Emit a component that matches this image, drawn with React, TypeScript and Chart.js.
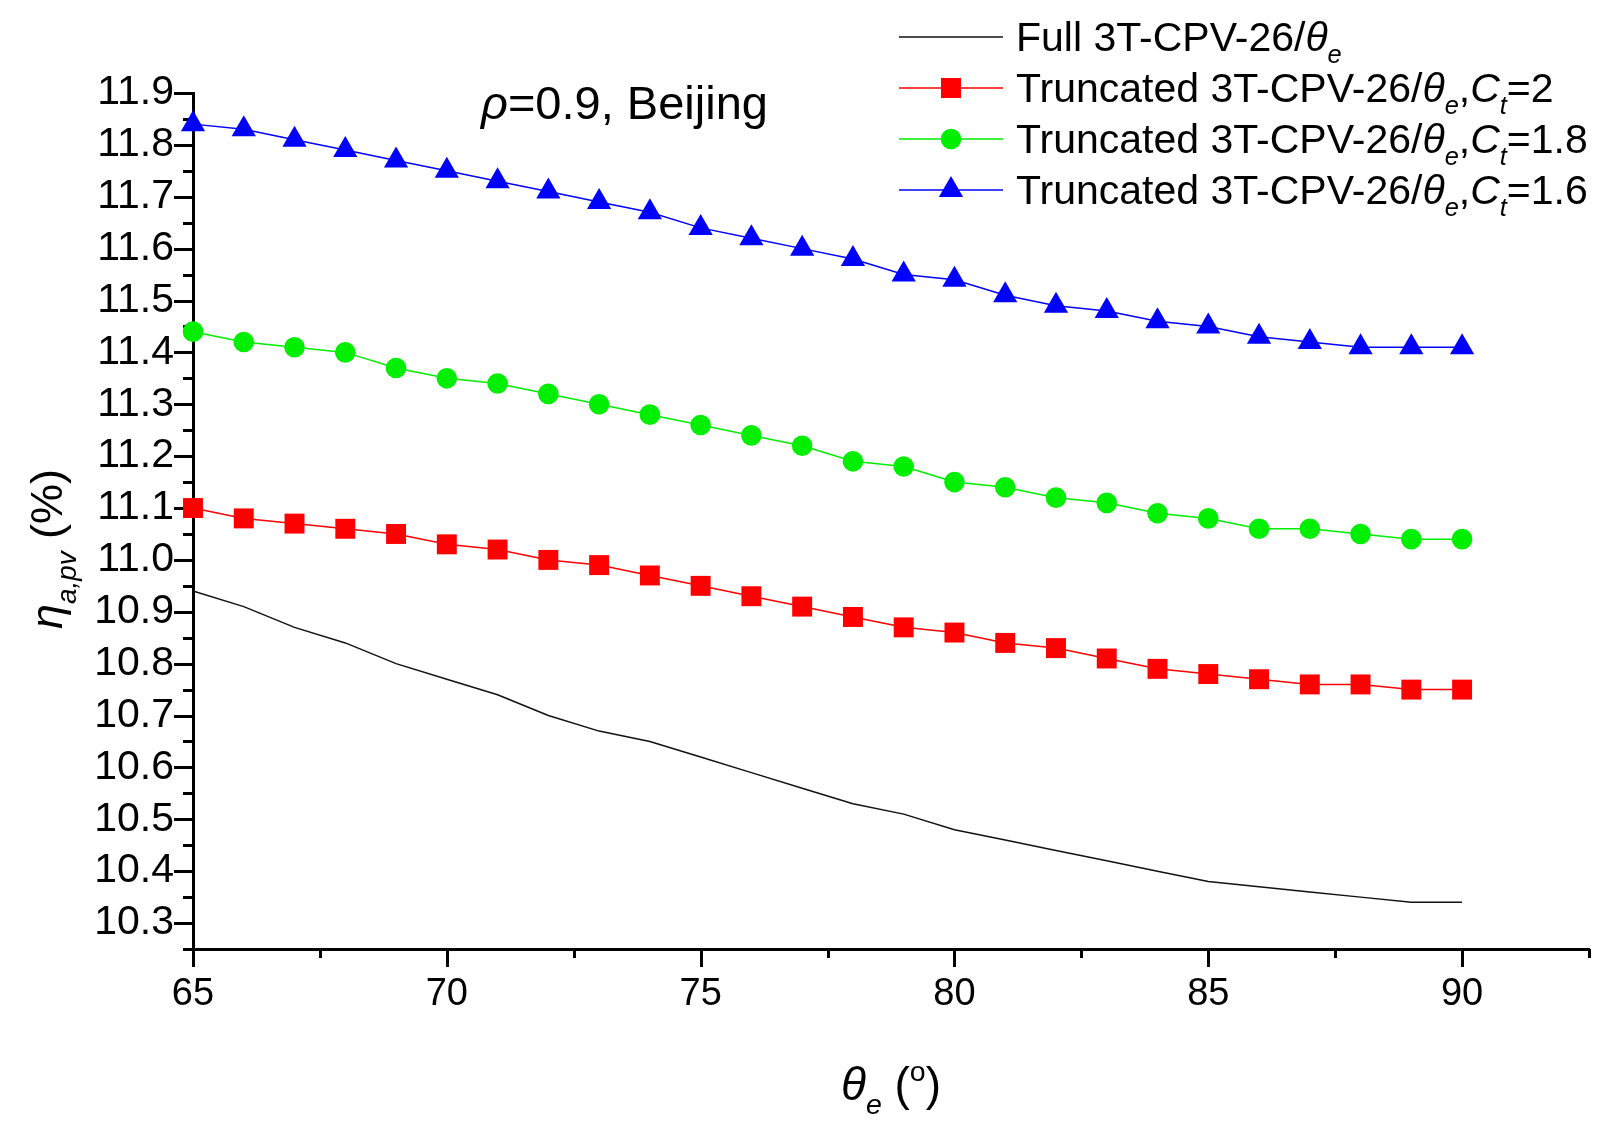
import { useEffect, useRef } from "react";
import { Chart, registerables, type ChartConfiguration, type Plugin } from "chart.js";

Chart.register(...registerables);

// theta_e in degrees
const angles = [65, 66, 67, 68, 69, 70, 71, 72, 73, 74, 75, 76, 77, 78, 79, 80, 81, 82, 83, 84, 85, 86, 87, 88, 89, 90];

const fullValues = [
  10.94, 10.91, 10.87, 10.84, 10.8, 10.77, 10.74, 10.7, 10.67, 10.65, 10.62, 10.59, 10.56,
  10.53, 10.51, 10.48, 10.46, 10.44, 10.42, 10.4, 10.38, 10.37, 10.36, 10.35, 10.34, 10.34
];
const ct2Values = [
  11.1, 11.08, 11.07, 11.06, 11.05, 11.03, 11.02, 11.0, 10.99, 10.97, 10.95, 10.93, 10.91,
  10.89, 10.87, 10.86, 10.84, 10.83, 10.81, 10.79, 10.78, 10.77, 10.76, 10.76, 10.75, 10.75
];
const ct18Values = [
  11.44, 11.42, 11.41, 11.4, 11.37, 11.35, 11.34, 11.32, 11.3, 11.28, 11.26, 11.24, 11.22,
  11.19, 11.18, 11.15, 11.14, 11.12, 11.11, 11.09, 11.08, 11.06, 11.06, 11.05, 11.04, 11.04
];
const ct16Values = [
  11.84, 11.83, 11.81, 11.79, 11.77, 11.75, 11.73, 11.71, 11.69, 11.67, 11.64, 11.62, 11.6,
  11.58, 11.55, 11.54, 11.51, 11.49, 11.48, 11.46, 11.45, 11.43, 11.42, 11.41, 11.41, 11.41
];

const xTickLabels = ["65", "70", "75", "80", "85", "90"];
const yTickLabels = [
  "10.3", "10.4", "10.5", "10.6", "10.7", "10.8", "10.9", "11.0",
  "11.1", "11.2", "11.3", "11.4", "11.5", "11.6", "11.7", "11.8", "11.9"
];

const FONT = "'Liberation Sans', Arial, sans-serif";

type Seg = { t: string; i?: boolean; sub?: boolean; sup?: boolean };

const legendRows: { segs: Seg[]; color: string; marker: string | null }[] = [
  {
    segs: [{ t: "Full 3T-CPV-26/" }, { t: "θ", i: true }, { t: "e", i: true, sub: true }],
    color: "#111111",
    marker: null
  },
  {
    segs: [
      { t: "Truncated 3T-CPV-26/" }, { t: "θ", i: true }, { t: "e", i: true, sub: true }, { t: "," },
      { t: "C", i: true }, { t: "t", i: true, sub: true }, { t: "=2" }
    ],
    color: "#ff0000",
    marker: "rect"
  },
  {
    segs: [
      { t: "Truncated 3T-CPV-26/" }, { t: "θ", i: true }, { t: "e", i: true, sub: true }, { t: "," },
      { t: "C", i: true }, { t: "t", i: true, sub: true }, { t: "=1.8" }
    ],
    color: "#00ee00",
    marker: "circle"
  },
  {
    segs: [
      { t: "Truncated 3T-CPV-26/" }, { t: "θ", i: true }, { t: "e", i: true, sub: true }, { t: "," },
      { t: "C", i: true }, { t: "t", i: true, sub: true }, { t: "=1.6" }
    ],
    color: "#0000ff",
    marker: "triangle"
  }
];

function segFont(seg: Seg, size: number) {
  const s = seg.sub || seg.sup ? size * 0.62 : size;
  return `${seg.i ? "italic " : ""}${s}px ${FONT}`;
}

function richWidth(ctx: CanvasRenderingContext2D, segs: Seg[], size: number) {
  let w = 0;
  segs.forEach((seg) => {
    ctx.font = segFont(seg, size);
    w += ctx.measureText(seg.t).width;
  });
  return w;
}

function drawRich(ctx: CanvasRenderingContext2D, segs: Seg[], x: number, y: number, size: number) {
  let cx = x;
  ctx.textBaseline = "alphabetic";
  ctx.textAlign = "left";
  segs.forEach((seg) => {
    ctx.font = segFont(seg, size);
    const dy = seg.sub ? size * 0.3 : seg.sup ? -size * 0.42 : 0;
    ctx.fillText(seg.t, cx, y + dy);
    cx += ctx.measureText(seg.t).width;
  });
}

function drawMarker(ctx: CanvasRenderingContext2D, kind: string, x: number, y: number, color: string) {
  ctx.fillStyle = color;
  ctx.beginPath();
  if (kind === "rect") {
    ctx.rect(x - 10, y - 10, 20, 20);
  } else if (kind === "circle") {
    ctx.arc(x, y, 10.3, 0, Math.PI * 2);
  } else if (kind === "triangle") {
    const r = 14;
    ctx.moveTo(x, y - r);
    ctx.lineTo(x + r * Math.sin((2 * Math.PI) / 3), y + r / 2);
    ctx.lineTo(x - r * Math.sin((2 * Math.PI) / 3), y + r / 2);
    ctx.closePath();
  }
  ctx.fill();
}

function isMajor(value: number, step: number) {
  const n = Math.round(value / step);
  return n % 2 === 0;
}

const axisTicksPlugin: Plugin<"line"> = {
  id: "axisTicks",
  beforeDatasetsDraw(chart) {
    const { ctx } = chart;
    const xs = chart.scales.x;
    const ys = chart.scales.y;
    ctx.save();
    ctx.strokeStyle = "#000";
    ctx.lineWidth = 3;
    ctx.lineCap = "butt";
    ctx.beginPath();
    xs.ticks.forEach((t) => {
      const px = Math.round(xs.getPixelForValue(t.value)) + 0.5;
      const len = isMajor(t.value, 2.5) ? 18 : 9;
      ctx.moveTo(px, xs.top);
      ctx.lineTo(px, xs.top + len);
    });
    ys.ticks.forEach((t) => {
      const py = Math.round(ys.getPixelForValue(t.value)) + 0.5;
      const len = isMajor(t.value, 0.05) ? 19 : 10;
      ctx.moveTo(ys.right, py);
      ctx.lineTo(ys.right - len, py);
    });
    ctx.stroke();
    ctx.restore();
  }
};

const textPlugin: Plugin<"line"> = {
  id: "figureText",
  afterDraw(chart) {
    const { ctx } = chart;
    const area = chart.chartArea;
    ctx.save();
    ctx.fillStyle = "#000";

    // legend, top right
    legendRows.forEach((row, index) => {
      const y = 37 + index * 51;
      ctx.strokeStyle = row.color;
      ctx.lineWidth = 1.5;
      ctx.beginPath();
      ctx.moveTo(899, y);
      ctx.lineTo(1003, y);
      ctx.stroke();
      if (row.marker) {
        drawMarker(ctx, row.marker, 951, y, row.color);
      }
      ctx.fillStyle = "#000";
      drawRich(ctx, row.segs, 1016, y + 14, 41);
    });

    // annotation
    drawRich(ctx, [{ t: "ρ", i: true }, { t: "=0.9, Beijing" }], 481, 119, 47);

    // x axis title
    const xTitle: Seg[] = [
      { t: "θ", i: true }, { t: "e", i: true, sub: true }, { t: " (" }, { t: "o", sup: true }, { t: ")" }
    ];
    const xw = richWidth(ctx, xTitle, 46);
    drawRich(ctx, xTitle, (area.left + area.right) / 2 - xw / 2, 1100, 46);

    // y axis title, rotated
    const yTitle: Seg[] = [{ t: "η", i: true }, { t: "a,pv", i: true, sub: true }, { t: " (%)" }];
    const yw = richWidth(ctx, yTitle, 45);
    ctx.translate(62, 549);
    ctx.rotate(-Math.PI / 2);
    drawRich(ctx, yTitle, -yw / 2, 0, 45);
    ctx.restore();
  }
};

function toPoints(values: number[]) {
  return angles.map((a, i) => ({ x: a, y: values[i] }));
}

export default function App() {
  const canvasRef = useRef<HTMLCanvasElement | null>(null);

  useEffect(() => {
    const canvas = canvasRef.current;
    if (!canvas) {
      return;
    }
    document.body.style.margin = "0";

    const config: ChartConfiguration<"line"> = {
      type: "line",
      data: {
        datasets: [
          {
            label: "Full 3T-CPV-26/θe",
            data: toPoints(fullValues),
            borderColor: "#111111",
            borderWidth: 1.5,
            pointRadius: 0,
            tension: 0,
            clip: false
          },
          {
            label: "Truncated 3T-CPV-26/θe,Ct=2",
            data: toPoints(ct2Values),
            borderColor: "#ff0000",
            backgroundColor: "#ff0000",
            borderWidth: 1.5,
            pointStyle: "rect",
            pointRadius: 14.1,
            pointBorderWidth: 0,
            tension: 0,
            clip: false
          },
          {
            label: "Truncated 3T-CPV-26/θe,Ct=1.8",
            data: toPoints(ct18Values),
            borderColor: "#00ee00",
            backgroundColor: "#00ee00",
            borderWidth: 1.5,
            pointStyle: "circle",
            pointRadius: 10.3,
            pointBorderWidth: 0,
            tension: 0,
            clip: false
          },
          {
            label: "Truncated 3T-CPV-26/θe,Ct=1.6",
            data: toPoints(ct16Values),
            borderColor: "#0000ff",
            backgroundColor: "#0000ff",
            borderWidth: 1.5,
            pointStyle: "triangle",
            pointRadius: 14,
            pointBorderWidth: 0,
            tension: 0,
            clip: false
          }
        ]
      },
      options: {
        responsive: false,
        animation: false,
        events: [],
        layout: {
          padding: { top: 93, right: 24, bottom: 83, left: 0 }
        },
        plugins: {
          legend: { display: false },
          tooltip: { enabled: false },
          title: { display: false }
        },
        scales: {
          x: {
            type: "linear",
            min: 65,
            max: 92.5,
            afterFit: (scale) => {
              scale.height = 100;
            },
            ticks: {
              stepSize: 2.5,
              autoSkip: false,
              maxRotation: 0,
              padding: 23,
              color: "#000",
              font: { family: FONT, size: 38 },
              callback: (value) => {
                const label = String(Math.round(Number(value) * 10) / 10);
                return xTickLabels.includes(label) ? label : "";
              }
            },
            grid: { display: false, drawTicks: false },
            border: { display: true, color: "#000", width: 3 }
          },
          y: {
            type: "linear",
            min: 10.25,
            max: 11.9,
            afterFit: (scale) => {
              scale.width = 193;
            },
            ticks: {
              stepSize: 0.05,
              maxTicksLimit: 100,
              autoSkip: false,
              padding: 19,
              color: "#000",
              font: { family: FONT, size: 41 },
              callback: (value) => {
                const label = (Math.round(Number(value) * 20) / 20).toFixed(2);
                const short = label.endsWith("0") ? label.slice(0, -1) : "";
                return yTickLabels.includes(short) ? short : "";
              }
            },
            grid: { display: false, drawTicks: false },
            border: { display: true, color: "#000", width: 3 }
          }
        }
      },
      plugins: [axisTicksPlugin, textPlugin]
    };

    const chart = new Chart(canvas, config);

    return () => {
      chart.destroy();
    };
  }, []);

  return (
    <div style={{ width: 1613, height: 1132, background: "#fff" }}>
      <canvas ref={canvasRef} width={1613} height={1132} style={{ display: "block" }} />
    </div>
  );
}
